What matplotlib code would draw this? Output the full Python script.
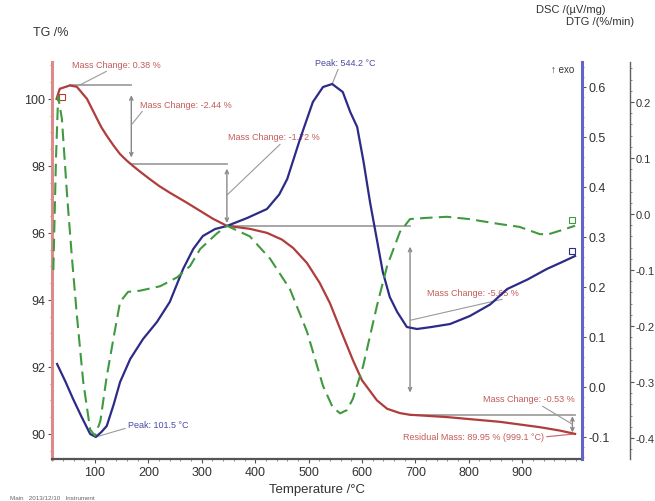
import numpy as np
import matplotlib
matplotlib.use('Agg')
import matplotlib.pyplot as plt
from matplotlib.ticker import MultipleLocator, FixedLocator

plt.rcParams['font.family'] = ['Liberation Sans Narrow', 'Liberation Sans', 'DejaVu Sans']

# ---------------- data ----------------
tg_temp = [28, 34, 53, 66, 85, 104, 112, 122, 135, 147, 160, 171, 185, 203, 220, 240, 272,
           321, 347, 390, 422, 450, 471, 497, 521, 540, 560, 583, 600, 628, 647, 671, 690,
           760, 858, 933, 970, 999]
tg_val = [100.0, 100.3, 100.4, 100.36, 100.0, 99.4, 99.15, 98.9, 98.6, 98.35, 98.15, 98.0,
          97.82, 97.6, 97.4, 97.2, 96.9, 96.42, 96.21, 96.12, 96.0, 95.8, 95.55, 95.1, 94.5,
          93.9, 93.1, 92.2, 91.6, 91.0, 90.75, 90.62, 90.57, 90.5, 90.36, 90.2, 90.1, 90.0]

dsc_temp = [29, 45, 59, 75, 91, 101.5, 112, 122, 135, 147, 166, 190, 216, 240, 265, 284,
            302, 325, 347, 385, 422, 445, 460, 484, 508, 527, 544.2, 564, 578, 591, 603,
            615, 627, 639, 652, 666, 684, 703, 730, 765, 802, 840, 872, 910, 946, 975, 999]
dsc_val = [0.046, 0.01, -0.024, -0.06, -0.094, -0.100, -0.09, -0.078, -0.035, 0.01, 0.056,
           0.096, 0.13, 0.17, 0.236, 0.276, 0.302, 0.316, 0.322, 0.338, 0.356, 0.385, 0.416,
           0.496, 0.57, 0.60, 0.606, 0.59, 0.55, 0.52, 0.45, 0.37, 0.30, 0.23, 0.18, 0.15,
           0.12, 0.116, 0.12, 0.126, 0.142, 0.165, 0.196, 0.215, 0.236, 0.25, 0.262]

dtg_temp = [22, 27, 31, 38, 48, 57, 66, 78, 91, 100, 110, 122, 135, 147, 162, 184, 222,
            254, 278, 297, 328, 347, 390, 428, 465, 497, 527, 545, 559, 572, 583, 602, 628,
            647, 671, 690, 720, 759, 800, 858, 895, 933, 950, 980, 999]
dtg_val = [-0.10, 0.10, 0.21, 0.17, 0.03, -0.08, -0.18, -0.30, -0.385, -0.396, -0.37, -0.29,
           -0.22, -0.157, -0.139, -0.137, -0.129, -0.113, -0.093, -0.0625, -0.035, -0.021,
           -0.04, -0.08, -0.134, -0.21, -0.307, -0.345, -0.356, -0.35, -0.33, -0.272, -0.164,
           -0.093, -0.032, -0.009, -0.007, -0.005, -0.009, -0.018, -0.023, -0.036, -0.036,
           -0.027, -0.021]

x_ticks = [100, 200, 300, 400, 500, 600, 700, 800, 900]
tg_ticks = [90, 92, 94, 96, 98, 100]
dsc_ticks = [-0.1, 0.0, 0.1, 0.2, 0.3, 0.4, 0.5, 0.6]
dtg_ticks = [-0.4, -0.3, -0.2, -0.1, 0.0, 0.1, 0.2]

step_temps = [53, 168, 347, 690, 999]
mass_changes = ['0.38', '-2.44', '-1.72', '-5.65', '-0.53']
residual_label = 'Residual Mass: 89.95 % (999.1 °C)'
dsc_peaks = [101.5, 544.2]

# ---------------- style ----------------
W, H = 655, 502
RED = '#b03c3c'
BLUE = '#2c2c88'
GREEN = '#3f9a3f'
GREY = '#a0a0a0'
TXT_RED = '#c45a5a'
TXT_BLUE = '#4a4aa0'
TICK = '#333333'

def P(x, y):
    return (x / W, 1 - y / H)

fig = plt.figure(figsize=(W / 100, H / 100), dpi=100)
L, R, T, B = 52, 582, 63, 460
ax = fig.add_axes([L / W, 1 - B / H, (R - L) / W, (B - T) / H])
ax_dsc = ax.twinx()
ax_dtg = ax.twinx()

ax.set_xlim(19.5, 1012)
ax.set_ylim(89.25, 101.1)
ax_dsc.set_ylim(-0.144, 0.65)
ax_dtg.set_ylim(-0.4375, 0.2714)

# spines
for a in (ax, ax_dsc, ax_dtg):
    a.spines['top'].set_visible(False)
    a.patch.set_visible(False)
ax.spines['right'].set_visible(False)
ax.spines['left'].set_color('#dd8a8a')
ax.spines['left'].set_linewidth(2.2)
ax.spines['bottom'].set_color('#555555')
ax.spines['bottom'].set_linewidth(1.6)
ax_dsc.spines['left'].set_visible(False)
ax_dsc.spines['bottom'].set_visible(False)
ax_dsc.spines['right'].set_color('#6464c8')
ax_dsc.spines['right'].set_linewidth(2.2)
ax_dtg.spines['left'].set_visible(False)
ax_dtg.spines['bottom'].set_visible(False)
ax_dtg.spines['right'].set_position(('axes', (630 - L) / (R - L)))
ax_dtg.spines['right'].set_color('#606060')
ax_dtg.spines['right'].set_linewidth(1.0)

# ticks
ax.xaxis.set_major_locator(FixedLocator(x_ticks))
ax.xaxis.set_minor_locator(MultipleLocator(20))
ax.yaxis.set_major_locator(FixedLocator(tg_ticks))
ax.yaxis.set_minor_locator(MultipleLocator(0.5))
ax_dsc.yaxis.set_major_locator(FixedLocator(dsc_ticks))
ax_dsc.yaxis.set_minor_locator(MultipleLocator(0.02))
ax_dtg.yaxis.set_major_locator(FixedLocator(dtg_ticks))
ax_dtg.yaxis.set_minor_locator(MultipleLocator(0.02))
ax.set_xticklabels([str(v) for v in x_ticks])
ax.set_yticklabels([str(v) for v in tg_ticks])
ax_dsc.set_yticklabels([f'{v:.1f}' for v in dsc_ticks])
ax_dtg.set_yticklabels([f'{v:.1f}' for v in dtg_ticks])

for a in (ax, ax_dsc, ax_dtg):
    a.tick_params(which='major', length=3, width=0.8, colors='#555555', labelcolor=TICK,
                  labelsize=9, pad=2)
    a.tick_params(which='minor', length=1.5, width=0.6, colors='#777777')
ax_dtg.tick_params(which='major', labelsize=8, pad=1)

ax.set_xlabel('Temperature /°C', fontsize=9.5, color=TICK, labelpad=4)

# curves
ax_dtg.plot(dtg_temp, dtg_val, color=GREEN, lw=1.5, ls=(0, (6, 3)), zorder=3)
ax.plot(tg_temp, tg_val, color=RED, lw=1.6, zorder=4)
ax_dsc.plot(dsc_temp, dsc_val, color=BLUE, lw=1.6, zorder=5)

# end markers
ax_dtg.plot([dtg_temp[-1] - 5], [dtg_val[-1] + 0.01], marker='s', ms=4, mfc='none',
            mec=GREEN, mew=0.8)
ax_dsc.plot([dsc_temp[-1] - 5], [dsc_val[-1] + 0.01], marker='s', ms=4, mfc='none',
            mec=BLUE, mew=0.8)
ax.plot([tg_temp[0] + 10], [tg_val[0] + 0.05], marker='s', ms=4, mfc='none', mec=RED, mew=0.8)

# ---------------- TG step evaluation ----------------
lv = [float(np.interp(t, tg_temp, tg_val)) for t in step_temps]
for i in range(len(step_temps) - 1):
    ax.plot([step_temps[i], step_temps[i + 1]], [lv[i], lv[i]], color=GREY, lw=1.3, zorder=2)
shrinks = [(7, 5), (3, 2), (15, 16), (1, 1)]
arrow_mid = []
for i in range(1, len(step_temps)):
    x = step_temps[i] - (5 if i == len(step_temps) - 1 else 0)
    ax.annotate('', xy=(x, lv[i]), xytext=(x, lv[i - 1]),
                arrowprops=dict(arrowstyle='<->,head_length=0.25,head_width=0.12',
                                color='#888888', lw=1.0,
                                shrinkA=shrinks[i - 1][0], shrinkB=shrinks[i - 1][1]),
                zorder=2)
    arrow_mid.append((x, (lv[i] + lv[i - 1]) / 2))

afs = 6.5
lead = dict(arrowstyle='-', color='#9a9a9a', lw=0.8, shrinkA=0, shrinkB=0)
ax.annotate(f'Mass Change: {mass_changes[0]} %', xy=(70, lv[0]), xycoords='data',
            xytext=P(72, 65), textcoords='figure fraction', fontsize=afs, color=TXT_RED,
            ha='left', va='center', arrowprops=dict(lead, relpos=(0.45, 0)))
ax.annotate(f'Mass Change: {mass_changes[1]} %', xy=arrow_mid[0],
            xytext=P(140, 105), textcoords='figure fraction', fontsize=afs, color=TXT_RED,
            ha='left', va='center', arrowprops=dict(lead, relpos=(0.05, 0)))
ax.annotate(f'Mass Change: {mass_changes[2]} %', xy=arrow_mid[1],
            xytext=P(228, 138), textcoords='figure fraction', fontsize=afs, color=TXT_RED,
            ha='left', va='center', arrowprops=dict(lead, relpos=(0.6, 0)))
ax.annotate(f'Mass Change: {mass_changes[3]} %', xy=arrow_mid[2],
            xytext=P(427, 293), textcoords='figure fraction', fontsize=afs, color=TXT_RED,
            ha='left', va='center', arrowprops=dict(lead, relpos=(0.95, 0)))
ax.annotate(f'Mass Change: {mass_changes[4]} %', xy=arrow_mid[3],
            xytext=P(483, 400), textcoords='figure fraction', fontsize=afs, color=TXT_RED,
            ha='left', va='center', arrowprops=dict(lead, relpos=(0.6, 0)))
ax.annotate(residual_label, xy=(tg_temp[-1], tg_val[-1]),
            xytext=P(403, 438), textcoords='figure fraction', fontsize=afs, color=TXT_RED,
            ha='left', va='center',
            arrowprops=dict(arrowstyle='-', color='#d86a6a', lw=0.9, shrinkA=0, shrinkB=0,
                            relpos=(1, 0.5)))
pk_lo = float(np.interp(dsc_peaks[0], dsc_temp, dsc_val))
pk_hi = float(np.interp(dsc_peaks[1], dsc_temp, dsc_val))
ax_dsc.annotate(f'Peak: {dsc_peaks[0]:.1f} °C', xy=(dsc_peaks[0], pk_lo),
                xytext=P(128, 425), textcoords='figure fraction', fontsize=afs,
                color=TXT_BLUE, ha='left', va='center',
                arrowprops=dict(lead, relpos=(0.0, 0.1)))
ax_dsc.annotate(f'Peak: {dsc_peaks[1]:.1f} °C', xy=(dsc_peaks[1], pk_hi),
                xytext=P(315, 63), textcoords='figure fraction', fontsize=afs,
                color=TXT_BLUE, ha='left', va='center',
                arrowprops=dict(lead, relpos=(0.4, 0)))

# headers
fig.text(*P(33, 33), 'TG /%', fontsize=9, color=TICK, ha='left', va='center')
fig.text(*P(536, 10), 'DSC /(µV/mg)', fontsize=8, color=TICK, ha='left', va='center')
fig.text(*P(566, 22), 'DTG /(%/min)', fontsize=8, color=TICK, ha='left', va='center')
fig.text(*P(574, 70), '↑ exo', fontsize=7, color=TICK, ha='right', va='center')
fig.text(*P(10, 499), 'Main   2013/12/10   Instrument', fontsize=4.5, color='#666666',
         ha='left', va='center')

fig.savefig('out.png', dpi=100)
